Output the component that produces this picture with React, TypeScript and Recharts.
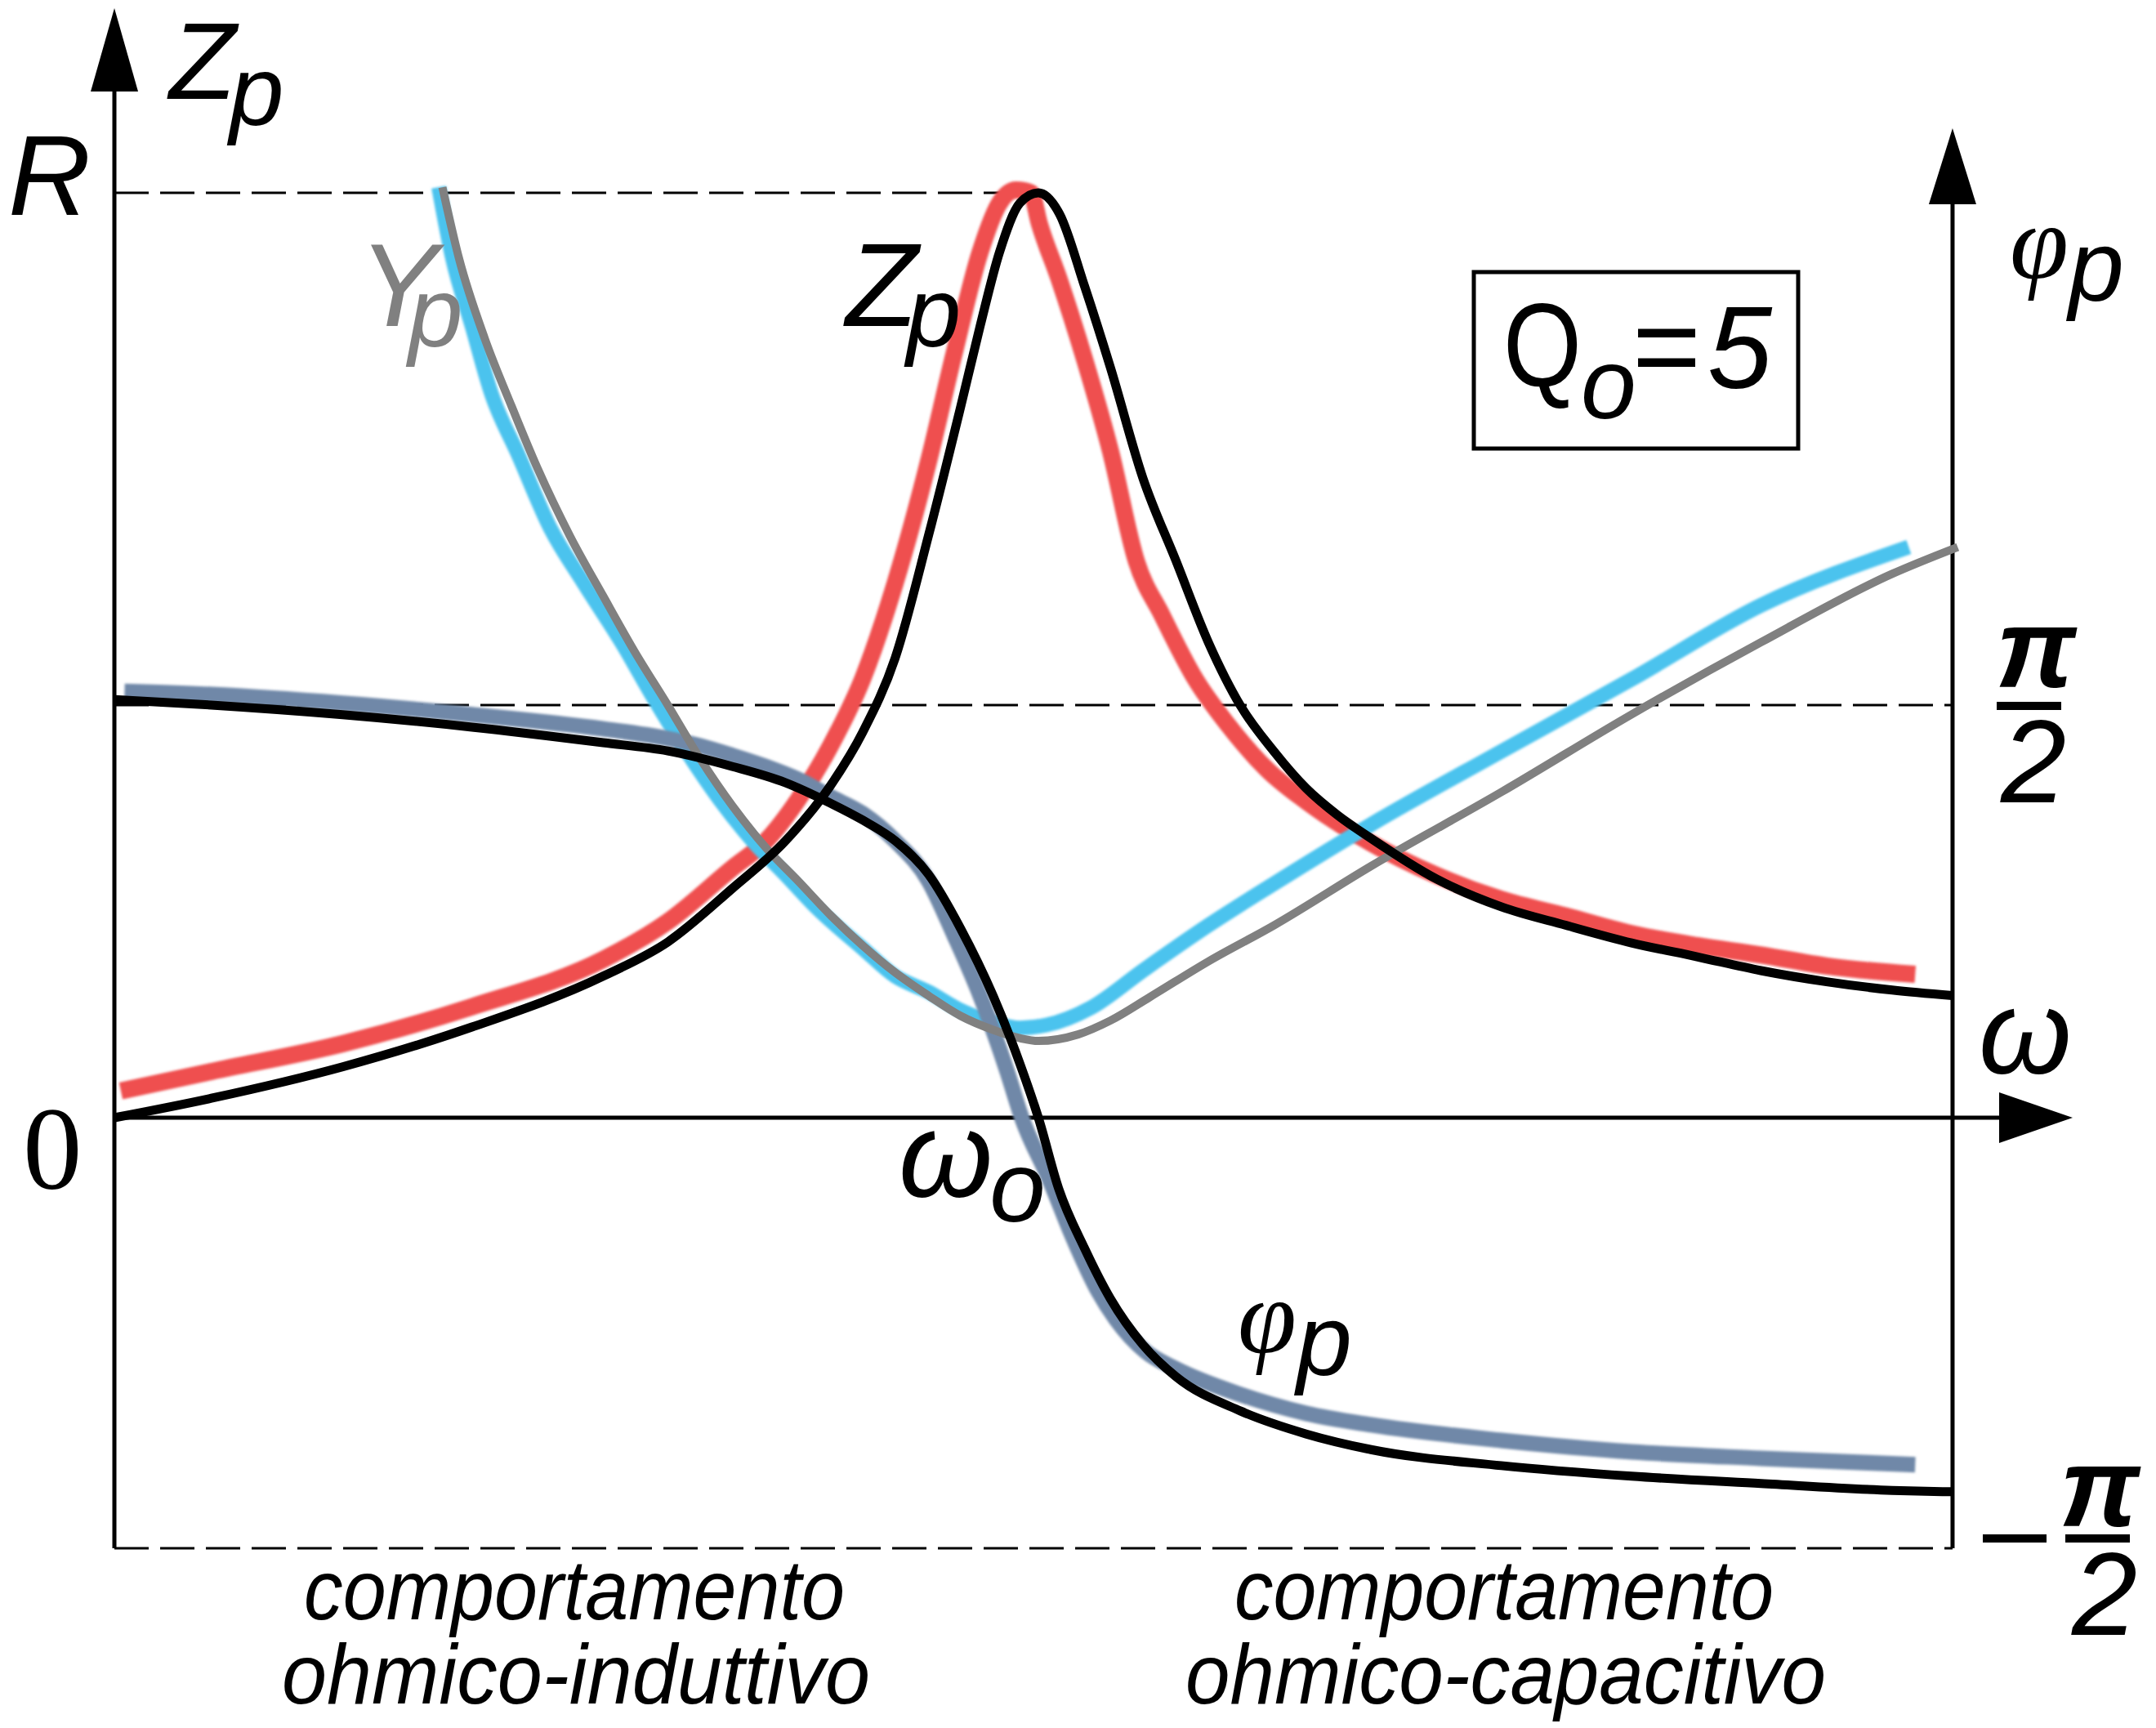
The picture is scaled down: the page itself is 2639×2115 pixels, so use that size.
import React from "react";
import { LineChart, Line, XAxis, YAxis, ReferenceLine, ReferenceDot } from "recharts";

document.body.style.margin = "0";

const W = 2639;
const H = 2115;

// x: omega / omega0 ; left: Zp/R (Yp drawn on same scale) ; right: phase in degrees
const zpBlackW = [0, 0.105, 0.247, 0.387, 0.529, 0.599, 0.669, 0.726, 0.775, 0.81, 0.845, 0.881, 0.916, 0.937, 0.958, 0.98, 1.0, 1.023, 1.05, 1.078, 1.113, 1.149, 1.184, 1.219, 1.255, 1.29, 1.324, 1.36, 1.431, 1.501, 1.571, 1.642, 1.713, 1.782, 1.853, 1.924, 1.989];
const zpBlackV = [0, 0.021, 0.055, 0.098, 0.153, 0.19, 0.248, 0.299, 0.359, 0.417, 0.497, 0.629, 0.769, 0.856, 0.936, 0.989, 1.0, 0.977, 0.899, 0.811, 0.692, 0.602, 0.514, 0.445, 0.396, 0.356, 0.327, 0.302, 0.258, 0.228, 0.208, 0.189, 0.174, 0.159, 0.147, 0.138, 0.132];

const zpRedW = [0.007, 0.105, 0.247, 0.387, 0.529, 0.599, 0.669, 0.705, 0.74, 0.775, 0.81, 0.845, 0.881, 0.909, 0.937, 0.958, 0.976, 0.992, 1.001, 1.022, 1.05, 1.078, 1.106, 1.134, 1.17, 1.205, 1.248, 1.29, 1.36, 1.431, 1.501, 1.571, 1.642, 1.713, 1.782, 1.853, 1.949];
const zpRedV = [0.029, 0.05, 0.08, 0.12, 0.171, 0.212, 0.27, 0.299, 0.344, 0.402, 0.475, 0.578, 0.709, 0.827, 0.936, 0.989, 1.003, 1.0, 0.967, 0.908, 0.82, 0.721, 0.602, 0.543, 0.474, 0.425, 0.376, 0.342, 0.297, 0.262, 0.236, 0.218, 0.199, 0.186, 0.176, 0.164, 0.155];

const ypGrayW = [0.355, 0.373, 0.401, 0.43, 0.458, 0.493, 0.529, 0.563, 0.599, 0.634, 0.669, 0.705, 0.74, 0.775, 0.81, 0.845, 0.881, 0.916, 0.951, 0.98, 1.0, 1.043, 1.078, 1.12, 1.184, 1.255, 1.36, 1.501, 1.642, 1.782, 1.924, 1.995];
const ypGrayV = [1.006, 0.929, 0.842, 0.769, 0.702, 0.629, 0.564, 0.504, 0.446, 0.388, 0.337, 0.292, 0.256, 0.219, 0.186, 0.157, 0.132, 0.11, 0.095, 0.086, 0.083, 0.09, 0.105, 0.13, 0.169, 0.208, 0.272, 0.352, 0.436, 0.514, 0.588, 0.617];

const ypCyanW = [0.351, 0.366, 0.387, 0.408, 0.437, 0.472, 0.508, 0.55, 0.584, 0.62, 0.655, 0.691, 0.726, 0.761, 0.81, 0.845, 0.881, 0.916, 0.951, 0.98, 1.008, 1.057, 1.113, 1.184, 1.255, 1.36, 1.501, 1.642, 1.782, 1.942];
const ypCyanV = [1.006, 0.929, 0.856, 0.783, 0.717, 0.637, 0.578, 0.512, 0.453, 0.395, 0.344, 0.299, 0.263, 0.226, 0.183, 0.153, 0.136, 0.116, 0.103, 0.097, 0.1, 0.119, 0.159, 0.208, 0.253, 0.317, 0.396, 0.474, 0.554, 0.617];

const phiBlackW = [0, 0.105, 0.247, 0.387, 0.529, 0.599, 0.669, 0.726, 0.775, 0.81, 0.845, 0.881, 0.916, 0.951, 0.98, 1.0, 1.022, 1.05, 1.078, 1.113, 1.149, 1.219, 1.29, 1.36, 1.501, 1.642, 1.782, 1.924, 1.989];
const phiBlackV = [91.2, 90, 87.9, 85.2, 81.8, 80, 76.6, 73.1, 68.6, 64.9, 60.4, 53.1, 41.2, 26.6, 11.8, 0, -15.5, -28.5, -39.5, -49.5, -56.5, -64, -69, -72.4, -75.9, -78.2, -79.8, -81.3, -81.6];

const phiBlueW = [0.011, 0.105, 0.247, 0.387, 0.529, 0.599, 0.634, 0.669, 0.705, 0.74, 0.775, 0.81, 0.845, 0.881, 0.909, 0.937, 0.966, 0.982, 1.013, 1.036, 1.065, 1.084, 1.116, 1.149, 1.219, 1.29, 1.36, 1.501, 1.642, 1.782, 1.949];
const phiBlueV = [93, 92.3, 90.4, 87.9, 84.8, 82.7, 81.1, 79, 76.6, 73.8, 70, 66.3, 60.4, 51.7, 39.7, 26.6, 10.2, 0, -14, -25.5, -38, -44, -51, -54.8, -60.4, -64.5, -67, -70.4, -72.9, -74.3, -75.7];

// guide levels
const W0 = 1;
const W_RIGHT = 1.9894;
const Z_R = 1;
const PHI_HALF = 90;
const Z_BOTTOM = -0.4655;
const Z_FLOOR = -0.66;
const Z_LEFT_TIP = 1.1996;
const Z_LEFT_BASE = 1.11;
const Z_RIGHT_TIP = 1.0698;
const Z_RIGHT_BASE = 0.99;
const W_X_TIP = 2.1194;
const W_X_BASE = 2.04;

const rows = (ws: number[], vs: number[]) => ws.map((w, i) => ({ w, v: vs[i] }));

const sans = "'Liberation Sans', Arial, sans-serif";
const serif = "'Liberation Serif', 'Times New Roman', serif";

const upArrow = (len: number) => (p: any) => (
  <polygon points={`${p.cx},${p.cy} ${p.cx - 29},${p.cy + len} ${p.cx + 29},${p.cy + len}`} fill="#000" />
);
const rightArrow = (p: any) => (
  <polygon points={`${p.cx},${p.cy} ${p.cx - 90},${p.cy - 31} ${p.cx - 90},${p.cy + 31}`} fill="#000" />
);

const dash = { stroke: "#000", strokeWidth: 3, strokeDasharray: "42 14" };
const axis = { stroke: "#000", strokeWidth: 5 };

export default function App() {
  return (
    <div style={{ position: "relative", width: W, height: H, background: "#fff" }}>
      <svg width={0} height={0} style={{ position: "absolute" }}>
        <defs>
          <filter id="soft" filterUnits="userSpaceOnUse" x={0} y={0} width={W} height={H}>
            <feGaussianBlur stdDeviation={1.6} />
          </filter>
        </defs>
      </svg>
      <LineChart width={W} height={H} margin={{ top: 0, right: 0, bottom: 0, left: 0 }}>
        <XAxis dataKey="w" type="number" domain={[-0.1238, 2.2096]} allowDataOverflow hide />
        <YAxis yAxisId="z" type="number" domain={[-0.6599, 1.2085]} allowDataOverflow hide />
        <YAxis yAxisId="phi" orientation="right" type="number" domain={[-133.13, 243.8]} allowDataOverflow hide />

        <ReferenceLine yAxisId="z" segment={[{ x: 0, y: Z_R }, { x: W0, y: Z_R }]} {...dash} />
        <ReferenceLine yAxisId="phi" segment={[{ x: 0, y: PHI_HALF }, { x: W_RIGHT, y: PHI_HALF }]} {...dash} />
        <ReferenceLine yAxisId="z" segment={[{ x: 0, y: Z_BOTTOM }, { x: W_RIGHT, y: Z_BOTTOM }]} {...dash} />
        <ReferenceLine yAxisId="z" segment={[{ x: W0, y: Z_R }, { x: W0, y: Z_FLOOR }]} {...dash} />

        <ReferenceLine yAxisId="z" segment={[{ x: 0, y: Z_BOTTOM }, { x: 0, y: Z_LEFT_BASE }]} {...axis} />
        <ReferenceLine yAxisId="z" segment={[{ x: W_RIGHT, y: Z_BOTTOM }, { x: W_RIGHT, y: Z_RIGHT_BASE }]} {...axis} />
        <ReferenceLine yAxisId="z" segment={[{ x: 0, y: 0 }, { x: W_X_BASE, y: 0 }]} {...axis} />
        <ReferenceDot yAxisId="z" x={0} y={Z_LEFT_TIP} shape={upArrow(102)} />
        <ReferenceDot yAxisId="z" x={W_RIGHT} y={Z_RIGHT_TIP} shape={upArrow(93)} />
        <ReferenceDot yAxisId="z" x={W_X_TIP} y={0} shape={rightArrow} />

        <Line data={rows(zpRedW, zpRedV)} dataKey="v" yAxisId="z" type="monotone" stroke="#ef4f4f" strokeWidth={21} filter="url(#soft)" dot={false} activeDot={false} isAnimationActive={false} />
        <Line data={rows(ypCyanW, ypCyanV)} dataKey="v" yAxisId="z" type="monotone" stroke="#4cc3ee" strokeWidth={18} filter="url(#soft)" dot={false} activeDot={false} isAnimationActive={false} />
        <Line data={rows(phiBlueW, phiBlueV)} dataKey="v" yAxisId="phi" type="monotone" stroke="#7088a8" strokeWidth={19} filter="url(#soft)" dot={false} activeDot={false} isAnimationActive={false} />
        <Line data={rows(ypGrayW, ypGrayV)} dataKey="v" yAxisId="z" type="monotone" stroke="#808080" strokeWidth={10} dot={false} activeDot={false} isAnimationActive={false} />
        <Line data={rows(zpBlackW, zpBlackV)} dataKey="v" yAxisId="z" type="monotone" stroke="#000" strokeWidth={11} dot={false} activeDot={false} isAnimationActive={false} />
        <Line data={rows(phiBlackW, phiBlackV)} dataKey="v" yAxisId="phi" type="monotone" stroke="#000" strokeWidth={11} dot={false} activeDot={false} isAnimationActive={false} />
      </LineChart>

      <svg width={W} height={H} style={{ position: "absolute", left: 0, top: 0, pointerEvents: "none" }}>
        <g fontFamily={sans} fontStyle="italic" fill="#000">
          <text x={207} y={121} fontSize={134}>Z<tspan dx={-8} dy={32} fontSize={120}>p</tspan></text>
          <text x={10} y={263} fontSize={140}>R</text>
          <text x={439} y={399} fontSize={145} fill="#808080">Y<tspan dx={-36} dy={25} fontSize={120}>p</tspan></text>
          <text x={1035} y={399} fontSize={145}>Z<tspan dx={-14} dy={25} fontSize={120}>p</tspan></text>
          <text x={1100} y={1465} fontSize={148}>ω<tspan dx={-4} dy={30} fontSize={123}>o</tspan></text>
          <text x={2422} y={1314} fontSize={146}>ω</text>

          <text x={1515} y={1655} fontSize={130} fontFamily={serif}>φ<tspan fontFamily={sans} dy={28} fontSize={122}>p</tspan></text>
          <text x={2460} y={340} fontSize={130} fontFamily={serif}>φ<tspan fontFamily={sans} dy={28} fontSize={122}>p</tspan></text>

          <text x={2492} y={841} fontSize={138} fontWeight="bold" textAnchor="middle">π</text>
          <rect x={2444} y={859} width={79} height={10} />
          <text x={2489} y={982} fontSize={144} textAnchor="middle">2</text>

          <rect x={2427} y={1878} width={78} height={10} />
          <text x={2570} y={1868} fontSize={138} fontWeight="bold" textAnchor="middle">π</text>
          <rect x={2528} y={1878} width={79} height={10} />
          <text x={2576} y={2001} fontSize={144} textAnchor="middle">2</text>

          <rect x={1804} y={333} width={397} height={216} fill="none" stroke="#000" strokeWidth={5} />
          <text x={1840} y={473} fontSize={144} fontStyle="normal" textLength={96} lengthAdjust="spacingAndGlyphs">Q</text>
          <text x={1935} y={512} fontSize={122}>o</text>
          <text x={1998} y={473} fontSize={144} fontStyle="normal">=</text>
          <text x={2090} y={475} fontSize={142}>5</text>

          <text x={372} y={1982} fontSize={104} textLength={662} lengthAdjust="spacingAndGlyphs">comportamento</text>
          <text x={345} y={2085} fontSize={104} textLength={720} lengthAdjust="spacingAndGlyphs">ohmico-induttivo</text>
          <text x={1511} y={1982} fontSize={104} textLength={660} lengthAdjust="spacingAndGlyphs">comportamento</text>
          <text x={1451} y={2085} fontSize={104} textLength={784} lengthAdjust="spacingAndGlyphs">ohmico-capacitivo</text>
        </g>
        <text x={28} y={1455} fontSize={145} fontFamily={serif}>0</text>
      </svg>
    </div>
  );
}
